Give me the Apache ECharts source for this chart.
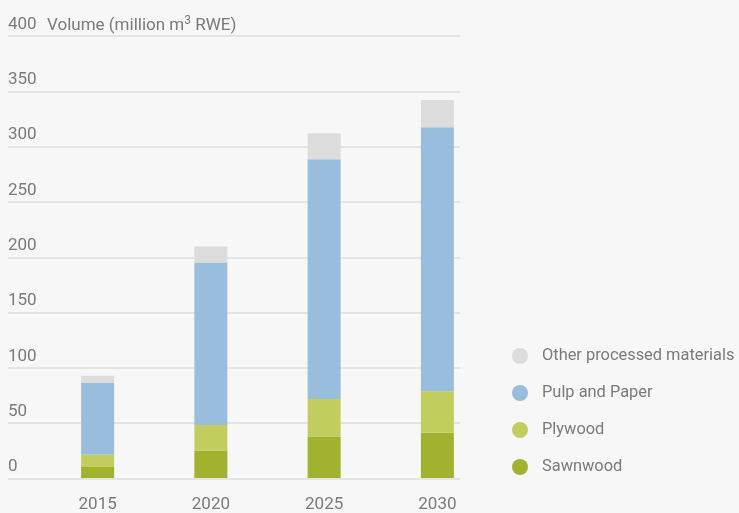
<!DOCTYPE html>
<html>
<head>
<meta charset="utf-8">
<script src="https://cdn.jsdelivr.net/npm/echarts@6/dist/echarts.min.js"></script>
<style>
  html, body { margin: 0; padding: 0; background: #f7f7f7; }
  #chart { width: 739px; height: 513px; }
</style>
</head>
<body>
<div id="chart"></div>
<script>
// Projected volumes, million m3 roundwood equivalent
const years = ['2015', '2020', '2025', '2030'];
const sawnwood = [10, 25, 37.5, 41];
const plywood = [11, 23, 34, 37.5];
const pulpAndPaper = [65, 147, 217, 239];
const otherProcessed = [6.5, 14.5, 23.5, 24.5];
const yTicks = [0, 50, 100, 150, 200, 250, 300, 350, 400];

const FONT = 'Roboto, sans-serif';
const TEXT = '#7a7a7a';
const FS = 17;

const seriesDefs = [
  { name: 'Sawnwood', values: sawnwood, color: '#a0b22e' },
  { name: 'Plywood', values: plywood, color: '#c1ce5d' },
  { name: 'Pulp and Paper', values: pulpAndPaper, color: '#98bddd' },
  { name: 'Other processed materials', values: otherProcessed, color: '#dcdcdc' }
];

const yMin = yTicks[0];
const yMax = yTicks[yTicks.length - 1];

const chart = echarts.init(document.getElementById('chart'), null, { renderer: 'canvas' });
chart.setOption({
  backgroundColor: '#f7f7f7',
  animation: false,
  textStyle: { fontFamily: FONT },
  title: {
    text: 'Volume (million m{sup|3} RWE)',
    left: 42,
    top: 10,
    textStyle: {
      fontFamily: FONT,
      fontWeight: 'normal',
      fontSize: FS,
      color: TEXT,
      rich: {
        sup: { fontFamily: FONT, fontSize: 12, color: TEXT, verticalAlign: 'top', padding: [0, 0, 9, 0] }
      }
    }
  },
  legend: {
    orient: 'vertical',
    left: 507,
    top: 343,
    itemWidth: 16,
    itemHeight: 16,
    itemGap: 21,
    icon: 'circle',
    data: ['Other processed materials', 'Pulp and Paper', 'Plywood', 'Sawnwood'],
    textStyle: { fontFamily: FONT, fontSize: 16.4, color: TEXT, padding: [0, 0, 0, 9] }
  },
  // grid 0: gridlines and value labels; grid 1: the bars
  grid: [
    { left: 8, right: 279, top: 36, bottom: 34.5 },
    { left: 41, right: 245, top: 36, bottom: 34.5 }
  ],
  xAxis: [
    { gridIndex: 0, type: 'category', data: years, show: false },
    {
      gridIndex: 1,
      type: 'category',
      data: years,
      axisLine: { show: false },
      axisTick: { show: false },
      axisLabel: { margin: 18, fontFamily: FONT, fontSize: FS, color: TEXT }
    }
  ],
  yAxis: [
    {
      gridIndex: 0,
      type: 'value',
      min: yMin,
      max: yMax,
      interval: 50,
      axisLine: { show: false },
      axisTick: { show: false },
      splitLine: { lineStyle: { color: '#dedede', width: 1.5 } },
      axisLabel: {
        inside: true,
        margin: 0,
        verticalAlign: 'bottom',
        padding: [0, 0, 3, 0],
        fontFamily: FONT,
        fontSize: FS,
        color: TEXT
      }
    },
    {
      gridIndex: 1,
      type: 'value',
      min: yMin,
      max: yMax,
      interval: 50,
      show: false
    }
  ],
  series: seriesDefs.map(s => ({
    name: s.name,
    type: 'bar',
    xAxisIndex: 1,
    yAxisIndex: 1,
    stack: 'total',
    barWidth: 33,
    itemStyle: { color: s.color },
    emphasis: { disabled: true },
    data: s.values
  }))
});
</script>
</body>
</html>
